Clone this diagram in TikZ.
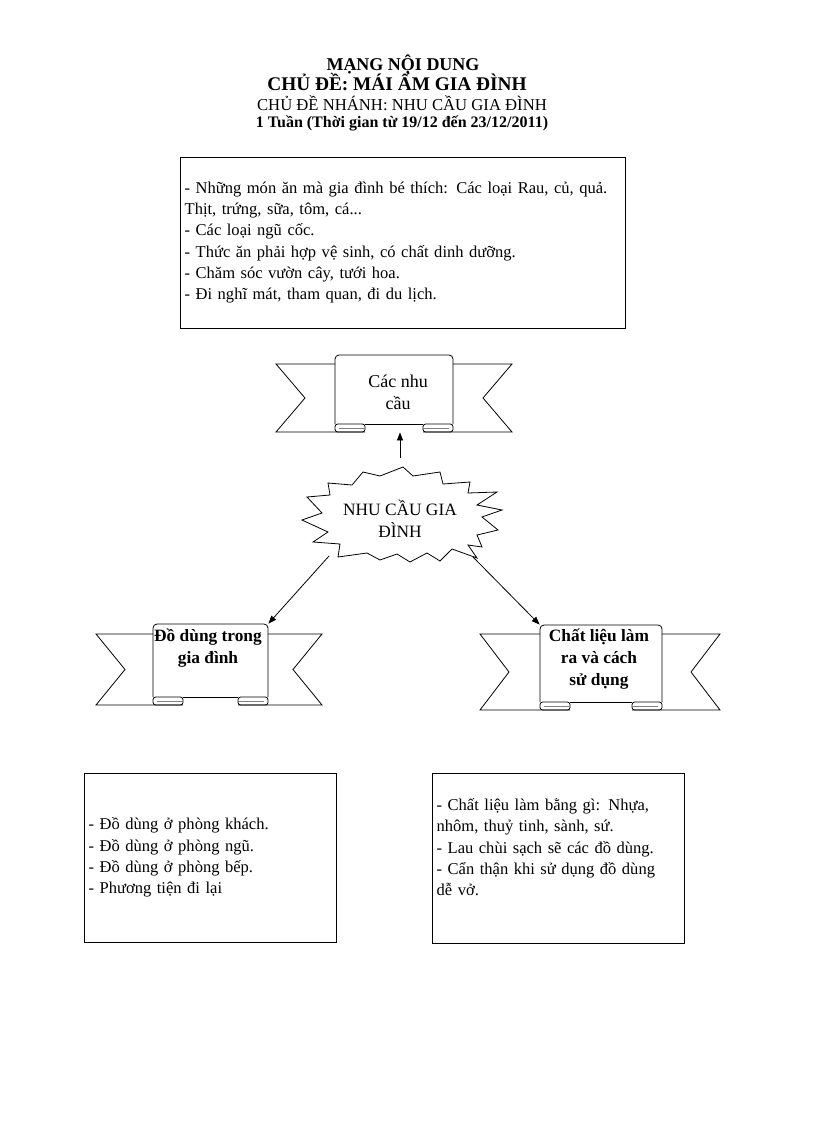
\documentclass[tikz,border=0pt]{standalone}
\usepackage{fontspec}
\setmainfont{Liberation Serif}
\usetikzlibrary{arrows.meta,fit}

% ribbon: name, left, right, top, tail top, bottom, outer left, outer right
\newcommand{\banner}[8]{%
	\pgfmathsetmacro\bnmid{(#5+#6)/2}%
	\pgfmathsetmacro\bnfold{#6-8}%
	\draw (#2+30,#6) -- (#7,#6) -- (#7+29,\bnmid) -- (#7,#5) -- (#2,#5);
	\draw (#3-30,#6) -- (#8,#6) -- (#8-29,\bnmid) -- (#8,#5) -- (#3,#5);
	\draw[rounded corners=3pt] (#2,\bnfold) -- (#2,#4) -- (#3,#4) -- (#3,\bnfold);
	\draw (#2+30,\bnfold) -- (#3-30,\bnfold);
	\draw[rounded corners=2pt] (#2+30,\bnfold) -- (#2,\bnfold) -- (#2,#6) -- (#2+30,#6) -- cycle;
	\draw[rounded corners=2pt] (#3-30,\bnfold) -- (#3,\bnfold) -- (#3,#6) -- (#3-30,#6) -- cycle;
	\draw[gray] (#2+4,\bnfold+4) -- (#2+30,\bnfold+4);
	\draw[gray] (#3-4,\bnfold+4) -- (#3-30,\bnfold+4);
	\node[fit={(#2,#4) (#3,#6)}, inner sep=0pt] (#1) {};
}

\begin{document}
\begin{tikzpicture}
	[x=0.75pt,y=-0.75pt,line width=0.6pt,
	 heading/.style={anchor=base,font=\fontsize{#1}{#1}\selectfont\bfseries},
	 subheading/.style={anchor=base,font=\fontsize{#1}{#1}\selectfont},
	 listbox/.style={draw,align=left,inner sep=3.5pt,font=\fontsize{12.4}{16}\selectfont},
	 ribbontext/.style={align=center,font=\fontsize{13.5}{16.5}\selectfont},
	 ribbonbold/.style={align=center,font=\fontsize{13}{16.5}\selectfont\bfseries},
	 bursttext/.style={align=center,font=\fontsize{13}{16.5}\selectfont},
	 arrow/.style={-{Triangle[length=6pt,width=4.5pt]}}]
	\useasboundingbox (0,0) rectangle (816,1123);
	
	\node[heading=13.5] (title) at (403,71) {MẠNG NỘI DUNG};
	\node[heading=14.5] (theme) at (397,91) {CHỦ ĐỀ: MÁI ẤM GIA ĐÌNH};
	\node[subheading=12.5] (branch) at (402,111) {CHỦ ĐỀ NHÁNH: NHU CẦU GIA ĐÌNH};
	\node[heading=12] (week) at (402,128) {1 Tuần (Thời gian từ 19/12 đến 23/12/2011)};
	
	\node[listbox,text width=326.75pt,minimum height=128.25pt] (food) at (402.5,242.5)
	{- Những món ăn mà gia đình bé thích: Các loại Rau, củ, quả.\\Thịt, trứng, sữa, tôm, cá...\\- Các loại ngũ cốc.\\- Thức ăn phải hợp vệ sinh, có chất dinh dưỡng.\\- Chăm sóc vườn cây, tưới hoa.\\- Đi nghĩ mát, tham quan, đi du lịch.};
	\node[listbox,text width=182pt,minimum height=126.75pt] (rooms) at (210,857.5)
	{- Đồ dùng ở phòng khách.\\- Đồ dùng ở phòng ngũ.\\- Đồ dùng ở phòng bếp.\\- Phương tiện đi lại};
	\node[listbox,text width=182pt,minimum height=127.5pt] (usage) at (558,858)
	{- Chất liệu làm bằng gì: Nhựa,\\nhôm, thuỷ tinh, sành, sứ.\\- Lau chùi sạch sẽ các đồ dùng.\\- Cẩn thận khi sử dụng đồ dùng\\dễ vở.\\\mbox{}};
	
	\banner{needs}{335}{453}{355}{364}{432}{276}{512}
	\banner{family}{153}{268}{624}{634}{705}{96}{322}
	\banner{material}{540}{662}{625}{634}{710}{480}{720}
	\node[ribbontext] (needstext) at (398,392) {Các nhu\\cầu};
	\node[ribbonbold] (familytext) at (208,648) {Đồ dùng trong\\gia đình};
	\node[ribbonbold] (materialtext) at (599,659) {Chất liệu làm\\ra và cách\\sử dụng};
	
	% star
	\draw (363,472) -- (380,476) -- (403,467) -- (413,476) -- (440,472) -- (443,484)
	-- (470,482) -- (468,493) -- (497,492) -- (477,505) -- (502,510) -- (482,517)
	-- (498,530) -- (477,535) -- (482,547) -- (468,545) -- (477,558) -- (452,549)
	-- (440,561) -- (427,553) -- (410,562) -- (397,554) -- (380,560) -- (367,553)
	-- (338,557) -- (340,544) -- (313,542) -- (328,532) -- (302,520) -- (322,513)
	-- (307,497) -- (330,495) -- (328,483) -- (352,485) -- cycle;
	\node[bursttext] (burst) at (400,519) {NHU CẦU GIA\\ĐÌNH};
	
	\coordinate (up) at (400,458);
	\coordinate (downleft) at (329,556);
	\coordinate (downright) at (473,557);
	\coordinate (needsbase) at (up |- needs.south);
	\foreach \from/\to in {up/needsbase,downleft/family.north east,downright/material.north west}
	\draw[arrow] (\from) -- (\to);
\end{tikzpicture}
\end{document}
